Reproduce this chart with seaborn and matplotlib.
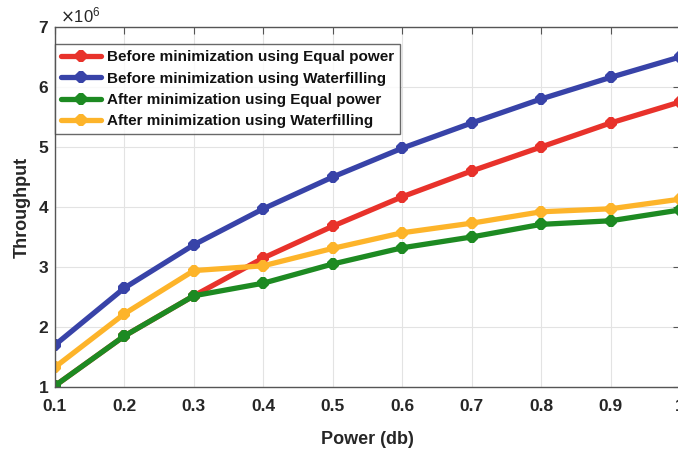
import numpy as np
import pandas as pd
import matplotlib
matplotlib.use("Agg")
import matplotlib.pyplot as plt
import seaborn as sns
from matplotlib.ticker import ScalarFormatter, MultipleLocator

power = [0.1, 0.2, 0.3, 0.4, 0.5, 0.6, 0.7, 0.8, 0.9, 1.0]
before_equal = [1.02, 1.85, 2.52, 3.15, 3.68, 4.17, 4.60, 5.00, 5.40, 5.75]
before_water = [1.70, 2.65, 3.37, 3.97, 4.50, 4.98, 5.40, 5.80, 6.16, 6.50]
after_equal = [1.02, 1.85, 2.52, 2.73, 3.05, 3.32, 3.50, 3.71, 3.77, 3.95]
after_water = [1.33, 2.22, 2.94, 3.02, 3.31, 3.57, 3.73, 3.92, 3.97, 4.13]
tick_labels = ["0.1", "0.2", "0.3", "0.4", "0.5", "0.6", "0.7", "0.8", "0.9", "1"]

series_names = [
    "Before minimization using Equal power",
    "Before minimization using Waterfilling",
    "After minimization using Equal power",
    "After minimization using Waterfilling",
]
series_values = [before_equal, before_water, after_equal, after_water]
colors = ["#e8322b", "#3843a8", "#1d8a22", "#fdb42a"]

rows = []
for name, vals in zip(series_names, series_values):
    for p, v in zip(power, vals):
        rows.append({"Power": p, "Throughput": v * 1e6, "Series": name})
df = pd.DataFrame(rows)

sns.set_style("white")
plt.rcParams["font.family"] = ["Liberation Sans", "DejaVu Sans"]

fig = plt.figure(figsize=(6.78, 4.54), dpi=100)
ax = fig.add_axes([0.081, 0.1476, 0.922, 0.793])

sns.lineplot(data=df, x="Power", y="Throughput", hue="Series",
             hue_order=series_names, palette=colors, marker="8",
             markersize=9, markeredgewidth=0, linewidth=3.8, ax=ax)

ax.set_xlim(0.1, 1.0)
ax.set_ylim(1e6, 7e6)
ax.yaxis.set_major_locator(MultipleLocator(1e6))
ax.set_xticks(power)
ax.set_xticklabels(tick_labels)

fmt = ScalarFormatter(useMathText=True)
fmt.set_powerlimits((0, 0))
ax.yaxis.set_major_formatter(fmt)
off = ax.yaxis.get_offset_text()
off.set_fontsize(12)
off.set_x(0.008)

ax.grid(True, color="#e3e3e3", linewidth=0.8)
for s in ax.spines.values():
    s.set_color("#555555")
    s.set_linewidth(1.0)
ax.tick_params(direction="in", length=5, color="#555555", top=True, right=True)
ax.tick_params(axis="x", pad=9)
ax.tick_params(axis="y", pad=4)
for lab in ax.get_xticklabels() + ax.get_yticklabels():
    lab.set_fontweight("bold")
    lab.set_fontsize(12.5)

ax.set_xlabel("Power (db)", fontsize=13, fontweight="bold", labelpad=12)
ax.set_ylabel("Throughput", fontsize=13, fontweight="bold", labelpad=5)

leg = ax.legend(loc="upper left", bbox_to_anchor=(0.0, 0.952), fontsize=11,
                frameon=True, fancybox=False, edgecolor="#444444",
                handlelength=2.6, borderpad=0.4, labelspacing=0.48,
                handletextpad=0.4, borderaxespad=0.0)
leg.get_frame().set_linewidth(1.0)
for t in leg.get_texts():
    t.set_fontweight("bold")
    t.set_color("#111111")

fig.savefig("out.png", dpi=100)
